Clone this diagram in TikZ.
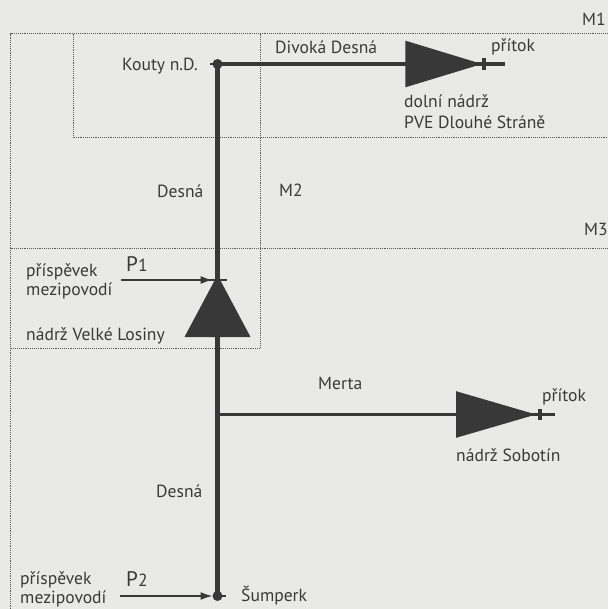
\documentclass[tikz,border=0pt]{standalone}
\usepackage{fontspec}
\setmainfont{PT Sans}
\usepackage{xcolor}
\usetikzlibrary{arrows.meta,shapes.geometric}
\definecolor{cPaper}{HTML}{E9E9E7}
\definecolor{cInk}{HTML}{3A3A3A}
\definecolor{cRiver}{HTML}{383838}
\definecolor{cDot}{HTML}{5A5A5A}

\begin{document}
\begin{tikzpicture}[
  x=0.3mm, y=-0.3mm,
  font=\fontsize{15}{16.5}\selectfont,
  >={Latex[length=3.6mm,width=2.4mm]},
  txt/.style={anchor=base west, inner sep=0pt, text=cInk},
  two/.style={anchor=west, align=left, inner sep=0pt, text=cInk},
  pee/.style={txt, font=\fontsize{18}{20}\selectfont},
  zone/.style={draw=cDot, line width=0.6pt, densely dotted},
  main/.style={draw=cRiver, line width=5pt},
  branch/.style={draw=cRiver, line width=3.4pt},
  inflow/.style={->, draw=cRiver, line width=1.3pt, shorten >=1.5mm},
  stub/.style={draw=cRiver, line width=1.3pt},
  nadrz/.style={isosceles triangle, isosceles triangle stretches, fill=cRiver,
                inner sep=0pt, outer sep=0pt},
  uzel/.style={circle, fill=cRiver, inner sep=0pt, minimum size=3mm},
  tick/.style={fill=cRiver, inner sep=0pt, minimum width=1mm, minimum height=3.4mm}]

\fill[cPaper] (0,0) rectangle (608,609);
\useasboundingbox (0,0) rectangle (608,609);

% ---- zones ----
\coordinate (ztl) at (10.5,33.5);
\coordinate (ztr) at (608,33.5);
\coordinate (zbl) at (10.5,609);
\coordinate (m1t) at (73,33.5);
\coordinate (m1b) at (73,137.5);
\coordinate (m1r) at (608,137.5);
\coordinate (m2t) at (260,33.5);
\coordinate (m2b) at (260,348);
\coordinate (m2l) at (10.5,348);
\coordinate (m3l) at (10.5,248);
\coordinate (m3r) at (608,248);

\draw[zone] (zbl) -- (ztl) -- (ztr);
\draw[zone] (m1t) -- (m1b) -- (m1r);
\draw[zone] (m2t) -- (m2b) -- (m2l);
\draw[zone] (m3l) -- (m3r);

% ---- river network ----
\coordinate (kouty) at (217.5,64);
\coordinate (sumperk) at (217.5,596);
\coordinate (odboc) at (217.5,414.5);
\coordinate (konecD) at (505,64);
\coordinate (konecM) at (555,414.5);
\coordinate (startP1) at (121,280);
\coordinate (startP2) at (120,596);
\coordinate (apexL) at (217.5,275);

\node[uzel] (uKouty) at (kouty) {};
\node[uzel] (uSumperk) at (sumperk) {};
\node[tick] (tDivoka) at (484,64) {};
\node[tick] (tMerta) at (540,414.5) {};
\node[tick, minimum width=6.5mm, minimum height=0.7mm] (tLosiny) at (216,280) {};

\draw[main] (uKouty.center) -- (uSumperk.center);
\draw[branch] (uKouty.center) -- (konecD);
\draw[branch] (odboc) -- (konecM);
\draw[stub] (uKouty.center) -- ++(-8,0);
\draw[stub] (uSumperk.center) -- ++(8,0);
\draw[inflow] (startP1) -- (startP1 -| apexL);
\draw[inflow] (startP2) -- (uSumperk.center);

% ---- reservoirs ----
\node[nadrz, anchor=apex, minimum width=14mm, minimum height=23mm] (dolni) at (482,64) {};
\node[nadrz, anchor=apex, minimum width=14mm, minimum height=24mm] (sobotin) at (536,414.5) {};
\node[nadrz, anchor=apex, shape border rotate=90, minimum width=19.8mm, minimum height=18.6mm] (losiny) at (apexL) {};

% ---- labels ----
\node[txt] (lKouty) at (122,70) {Kouty n.D.};
\node[txt] (lDivoka) at (275,53) {Divoká Desná};
\node[txt] (lPritokD) at (491,51) {přítok};
\node[txt] (lDolni) at (404,107) {dolní nádrž};
\node[txt] (lPve) at (404,128) {PVE Dlouhé Stráně};
\node[txt] (lM1) at (582,25) {M1};
\node[txt] (lM2) at (279,196) {M2};
\node[txt] (lM3) at (584,235) {M3};
\node[txt] (lDesnaH) at (157,197) {Desná};
\node[two] (lPrisp1) at (26,281) {příspěvek\\mezipovodí};
\node[pee] (lP1) at (126,271) {P{\fontsize{15}{16}\selectfont 1}};
\node[txt] (lLosiny) at (26,340) {nádrž Velké Losiny};
\node[txt] (lMerta) at (318,389) {Merta};
\node[txt] (lPritokM) at (542,401) {přítok};
\node[txt] (lSobotin) at (456,461) {nádrž Sobotín};
\node[txt] (lDesnaD) at (156,497) {Desná};
\node[two] (lPrisp2) at (20,589) {příspěvek\\mezipovodí};
\node[pee] (lP2) at (126,586) {P{\fontsize{15}{16}\selectfont 2}};
\node[txt] (lSumperk) at (241,601) {Šumperk};
\end{tikzpicture}
\end{document}
